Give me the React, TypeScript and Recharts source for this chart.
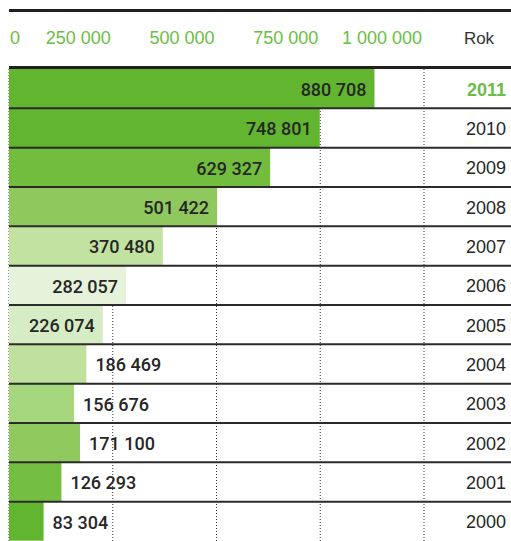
import { Bar, BarChart, CartesianGrid, Customized, LabelList, XAxis, YAxis } from 'recharts';

const years = ['2011', '2010', '2009', '2008', '2007', '2006', '2005', '2004', '2003', '2002', '2001', '2000'];
const totals = [880708, 748801, 629327, 501422, 370480, 282057, 226074, 186469, 156676, 171100, 126293, 83304];
const barColors = [
    '#62b52e', '#62b52e', '#72bd3e', '#8fc95d', '#c2e2a0', '#e6f3da',
    '#d6ecc4', '#c0e09d', '#a6d67e', '#90c95d', '#74bf42', '#62b52e',
];
const axisTicks = [0, 250000, 500000, 750000, 1000000];

const W = 511;
const H = 541;
const PLOT_LEFT = 9;
const YEAR_COL = 87;
const HEAD = 69;
const GREEN = '#6cbd45';
const INK = '#262626';

const chartData = years.map((year, i) => ({year, value: totals[i], color: barColors[i]}));

const fmt = (n: number) => String(n).replace(/\B(?=(\d{3})+(?!\d))/g, ' ');

const RowBar = (props: any) => {
    const {x, y, width, height, index, payload} = props;
    return (
        <g>
            <rect x={x} y={y} width={width} height={height} fill={payload.color} />
            {index > 0 && (
                <line x1={PLOT_LEFT} x2={W} y1={y} y2={y} stroke={'#2b2b2b'} strokeWidth={2} />
            )}
        </g>
    );
};

const ValueLabel = (props: any) => {
    const {x, y, width, height, value} = props;
    const inside = width > 80;
    return (
        <text
            x={inside ? x + width - 8 : x + width + 9}
            y={y + height / 2 + 1}
            textAnchor={inside ? 'end' : 'start'}
            dominantBaseline={'central'}
            fill={INK}
            fontFamily={'Roboto'}
            fontWeight={500}
            fontSize={18}
        >
            {fmt(value)}
        </text>
    );
};

const TopTick = (props: any) => {
    const {x, payload, index} = props;
    return (
        <text
            x={index === 0 ? x + 1 : x - 2}
            y={44}
            textAnchor={index === 0 ? 'start' : 'end'}
            fill={GREEN}
            fontSize={18}
        >
            {fmt(payload.value)}
        </text>
    );
};

const YearTick = (props: any) => {
    const {y, payload, index} = props;
    const first = index === 0;
    return (
        <text
            x={W - 5}
            y={y + 1}
            textAnchor={'end'}
            dominantBaseline={'central'}
            fill={first ? GREEN : INK}
            fontWeight={first ? 700 : 400}
            fontSize={18}
        >
            {payload.value}
        </text>
    );
};

const Frame = () => (
    <g>
        <line x1={PLOT_LEFT} x2={W} y1={10.5} y2={10.5} stroke={'#231f20'} strokeWidth={3} />
        <line x1={PLOT_LEFT} x2={W} y1={HEAD - 1.5} y2={HEAD - 1.5} stroke={'#231f20'} strokeWidth={3} />
        <text x={479} y={44} textAnchor={'middle'} fill={'#333'} fontSize={17}>Rok</text>
    </g>
);

export default function App() {
    return (
        <div style={{position: 'absolute', left: 0, top: 0, fontFamily: '"Liberation Sans", Arial, sans-serif'}}>
            <BarChart
                width={W}
                height={H}
                data={chartData}
                layout={'vertical'}
                barCategoryGap={0}
                margin={{top: 0, right: 0, bottom: 0, left: PLOT_LEFT}}
            >
                <CartesianGrid vertical horizontal={false} stroke={'#333'} strokeDasharray={'1 2'} />
                <XAxis
                    type={'number'}
                    orientation={'top'}
                    domain={[0, 1000000]}
                    ticks={axisTicks}
                    interval={0}
                    height={HEAD}
                    axisLine={false}
                    tickLine={false}
                    tick={<TopTick />}
                />
                <YAxis
                    type={'category'}
                    dataKey={'year'}
                    orientation={'right'}
                    width={YEAR_COL}
                    axisLine={false}
                    tickLine={false}
                    interval={0}
                    tick={<YearTick />}
                />
                <Bar dataKey={'value'} shape={<RowBar />} isAnimationActive={false}>
                    <LabelList dataKey={'value'} content={<ValueLabel />} />
                </Bar>
                <Customized component={<Frame />} />
            </BarChart>
        </div>
    );
}
